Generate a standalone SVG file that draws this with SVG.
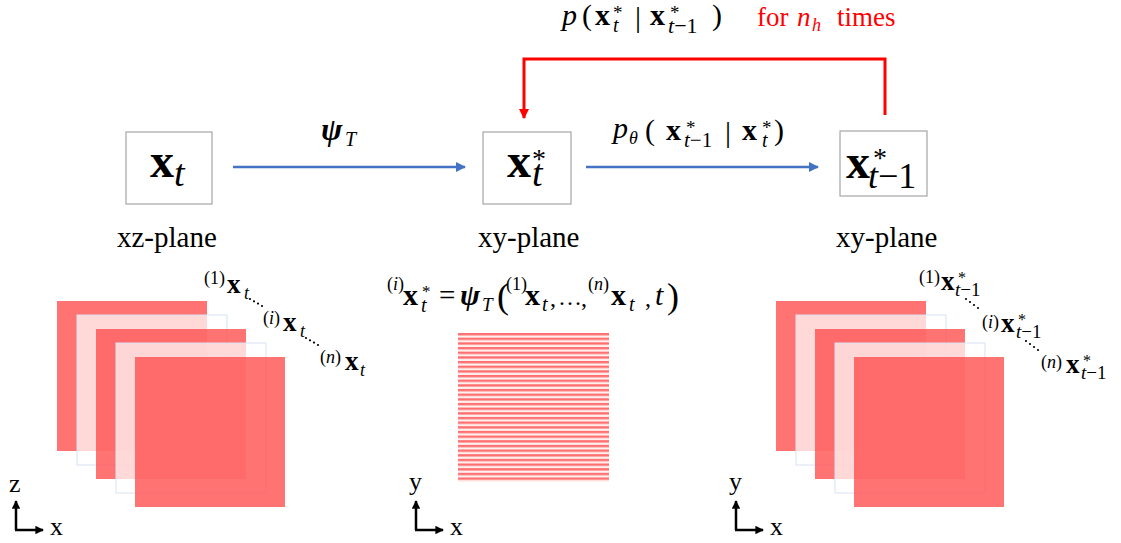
<svg xmlns="http://www.w3.org/2000/svg" width="1121" height="543" viewBox="0 0 1121 543">
<style>
.t{font-family:"Liberation Serif","DejaVu Serif",serif;fill:#000}
.b{font-weight:bold}
.i{font-style:italic}
.box{fill:#fff;stroke:#a6a6a6;stroke-width:1.2}
.dk{fill:#ff5050;fill-opacity:0.8}
.lt{fill:#fff;fill-opacity:0.72;stroke:#d9e2f3;stroke-width:1}
.blue{stroke:#4472c4;stroke-width:2.5;fill:none}
.red{stroke:#ff0000;stroke-width:3;fill:none}
.ax{stroke:#000;stroke-width:2.5;fill:none}
.dot{fill:#000}
</style>
<defs>
<marker id="ab" viewBox="0 0 10 10" refX="9" refY="5" markerWidth="4" markerHeight="4" orient="auto" markerUnits="strokeWidth"><path d="M0,0L10,5L0,10z" fill="#4472c4"/></marker>
<marker id="ar" viewBox="0 0 10 10" refX="9" refY="5" markerWidth="3.5" markerHeight="3.5" orient="auto" markerUnits="strokeWidth"><path d="M0,0L10,5L0,10z" fill="#ff0000"/></marker>
<marker id="ak" viewBox="0 0 10 10" refX="9" refY="5" markerWidth="3.4" markerHeight="3.4" orient="auto" markerUnits="strokeWidth"><path d="M0,0L10,5L0,10z" fill="#000"/></marker>
<pattern id="st" patternUnits="userSpaceOnUse" x="458" y="333" width="151" height="4.66"><rect width="151" height="4.66" fill="#fff0f0"/><rect width="151" height="2.4" fill="#ff7070"/></pattern>
</defs>

<g id="connectors">
<line class="blue" x1="233" y1="167" x2="465" y2="167" marker-end="url(#ab)"/>
<line class="blue" x1="586" y1="167" x2="818" y2="167" marker-end="url(#ab)"/>
<path class="red" d="M885,115V59H524V118" marker-end="url(#ar)"/>
</g>

<g id="top-label">
<text class="t i" x="562" y="25" font-size="30">p</text>
<text class="t" x="582" y="25" font-size="30">(</text>
<text class="t b" x="595" y="25" font-size="30">x</text>
<text class="t" x="613" y="19" font-size="19">*</text>
<text class="t i" x="613" y="32" font-size="20">t</text>
<text class="t" x="635" y="27" font-size="30">|</text>
<text class="t b" x="650" y="25" font-size="30">x</text>
<text class="t" x="670" y="19" font-size="19">*</text>
<text class="t" x="668" y="33" font-size="22"><tspan class="i">t</tspan>−1</text>
<text class="t" x="712" y="25" font-size="30">)</text>
<text class="t" x="757" y="26" font-size="27" style="fill:#ff0000">for <tspan class="i" x="797">n</tspan><tspan class="i" x="812" dy="5" font-size="18">h</tspan><tspan x="837" dy="-5">times</tspan></text>
</g>

<g id="node-xt">
<rect class="box" x="126" y="132" width="86" height="72"/>
<text class="t b" x="150" y="177" font-size="48">x</text>
<text class="t i" x="174" y="186" font-size="38">t</text>
<text class="t" x="117" y="247" font-size="29">xz-plane</text>
</g>

<g id="node-xts">
<rect class="box" x="483" y="132" width="88" height="72"/>
<text class="t b" x="507" y="177" font-size="48">x</text>
<text class="t" x="532" y="168" font-size="28">*</text>
<text class="t i" x="532" y="186" font-size="38">t</text>
<text class="t" x="478" y="247" font-size="29">xy-plane</text>
</g>

<g id="node-xt1">
<rect class="box" x="840" y="131" width="87" height="65"/>
<text class="t b" x="846" y="178" font-size="48">x</text>
<text class="t" x="873" y="167" font-size="28">*</text>
<text class="t" x="868" y="188" font-size="36"><tspan class="i">t</tspan>−1</text>
<text class="t" x="836" y="247" font-size="29">xy-plane</text>
</g>

<g id="label-psi">
<text class="t b i" x="321" y="140" font-size="32">ψ</text>
<text class="t i" x="345" y="146" font-size="20">T</text>
</g>

<g id="label-ptheta">
<text class="t i" x="613" y="138" font-size="30">p</text>
<text class="t i" x="629" y="144" font-size="18">θ</text>
<text class="t" x="645" y="140" font-size="30">(</text>
<text class="t b" x="666" y="140" font-size="30">x</text>
<text class="t" x="686" y="134" font-size="19">*</text>
<text class="t" x="684" y="147" font-size="21"><tspan class="i">t</tspan>−1</text>
<text class="t" x="725" y="142" font-size="30">|</text>
<text class="t b" x="742" y="140" font-size="30">x</text>
<text class="t" x="762" y="134" font-size="19">*</text>
<text class="t i" x="762" y="147" font-size="20">t</text>
<text class="t" x="774" y="140" font-size="30">)</text>
</g>

<g id="stack-left">
<rect class="dk" x="57" y="301" width="150" height="150"/>
<rect class="lt" x="77" y="315" width="150" height="150"/>
<rect class="dk" x="96" y="329" width="150" height="150"/>
<rect class="lt" x="116" y="343" width="150" height="150"/>
<rect class="dk" x="135" y="357" width="150" height="150"/>
<text class="t" x="204" y="284" font-size="18">(1)</text>
<text class="t b" x="227" y="293" font-size="27">x</text>
<text class="t i" x="244" y="299" font-size="18">t</text>
<circle class="dot" cx="250" cy="299" r="1.1"/><circle class="dot" cx="254" cy="301.3" r="1.1"/><circle class="dot" cx="258" cy="303.6" r="1.1"/><circle class="dot" cx="262" cy="306" r="1.1"/>
<text class="t" x="263" y="324" font-size="18">(<tspan class="i">i</tspan>)</text>
<text class="t b" x="283" y="331" font-size="27">x</text>
<text class="t i" x="300" y="337" font-size="18">t</text>
<circle class="dot" cx="306" cy="338" r="1.1"/><circle class="dot" cx="310" cy="340.3" r="1.1"/><circle class="dot" cx="314" cy="342.6" r="1.1"/><circle class="dot" cx="318" cy="345" r="1.1"/>
<text class="t" x="320" y="363" font-size="18">(<tspan class="i">n</tspan>)</text>
<text class="t b" x="345" y="370" font-size="27">x</text>
<text class="t i" x="360" y="376" font-size="18">t</text>
</g>

<g id="stripes">
<rect x="458" y="333" width="151" height="149" fill="url(#st)"/>
<text class="t" x="387" y="290" font-size="18">(<tspan class="i">i</tspan>)</text>
<text class="t b" x="403" y="305" font-size="30">x</text>
<text class="t" x="422" y="297" font-size="17">*</text>
<text class="t i" x="421" y="312" font-size="20">t</text>
<text class="t" x="439" y="305" font-size="29">=</text>
<text class="t b i" x="460" y="305" font-size="30">ψ</text>
<text class="t i" x="482" y="311" font-size="19">T</text>
<text class="t" x="497" y="308" font-size="36">(</text>
<text class="t" x="506" y="290" font-size="18">(1)</text>
<text class="t b" x="525" y="305" font-size="30">x</text>
<text class="t i" x="542" y="311" font-size="20">t</text>
<text class="t" x="550" y="306" font-size="24">,</text>
<text class="t" x="558" y="305" font-size="24">…</text>
<text class="t" x="581" y="306" font-size="24">,</text>
<text class="t" x="588" y="290" font-size="18">(<tspan class="i">n</tspan>)</text>
<text class="t b" x="611" y="305" font-size="30">x</text>
<text class="t i" x="629" y="311" font-size="20">t</text>
<text class="t" x="645" y="306" font-size="24">,</text>
<text class="t i" x="655" y="305" font-size="30">t</text>
<text class="t" x="667" y="308" font-size="36">)</text>
</g>

<g id="stack-right">
<rect class="dk" x="776" y="301" width="150" height="150"/>
<rect class="lt" x="796" y="315" width="150" height="150"/>
<rect class="dk" x="815" y="329" width="150" height="150"/>
<rect class="lt" x="835" y="343" width="150" height="150"/>
<rect class="dk" x="854" y="357" width="150" height="150"/>
<text class="t" x="919" y="283" font-size="18">(1)</text>
<text class="t b" x="941" y="290" font-size="27">x</text>
<text class="t" x="958" y="283" font-size="16">*</text>
<text class="t" x="955" y="296" font-size="19"><tspan class="i">t</tspan>−1</text>
<circle class="dot" cx="966" cy="299" r="1.1"/><circle class="dot" cx="970" cy="302" r="1.1"/><circle class="dot" cx="974" cy="305" r="1.1"/><circle class="dot" cx="978" cy="308" r="1.1"/>
<text class="t" x="982" y="328" font-size="18">(<tspan class="i">i</tspan>)</text>
<text class="t b" x="1001" y="332" font-size="27">x</text>
<text class="t" x="1018" y="325" font-size="16">*</text>
<text class="t" x="1016" y="338" font-size="19"><tspan class="i">t</tspan>−1</text>
<circle class="dot" cx="1026" cy="341" r="1.1"/><circle class="dot" cx="1030" cy="344" r="1.1"/><circle class="dot" cx="1034" cy="347" r="1.1"/><circle class="dot" cx="1038" cy="350" r="1.1"/>
<text class="t" x="1041" y="368" font-size="18">(<tspan class="i">n</tspan>)</text>
<text class="t b" x="1066" y="373" font-size="27">x</text>
<text class="t" x="1083" y="366" font-size="16">*</text>
<text class="t" x="1081" y="379" font-size="19"><tspan class="i">t</tspan>−1</text>
</g>

<g id="axes-left">
<text class="t" x="9" y="492" font-size="26">z</text>
<path class="ax" d="M16,530V501" marker-end="url(#ak)"/>
<path class="ax" d="M15,530H43" marker-end="url(#ak)"/>
<text class="t" x="50" y="535" font-size="26">x</text>
</g>
<g id="axes-mid">
<text class="t" x="409" y="490" font-size="26">y</text>
<path class="ax" d="M416,530V501" marker-end="url(#ak)"/>
<path class="ax" d="M415,530H443" marker-end="url(#ak)"/>
<text class="t" x="450" y="535" font-size="26">x</text>
</g>
<g id="axes-right">
<text class="t" x="729" y="490" font-size="26">y</text>
<path class="ax" d="M736,530V501" marker-end="url(#ak)"/>
<path class="ax" d="M735,530H763" marker-end="url(#ak)"/>
<text class="t" x="770" y="535" font-size="26">x</text>
</g>
</svg>
